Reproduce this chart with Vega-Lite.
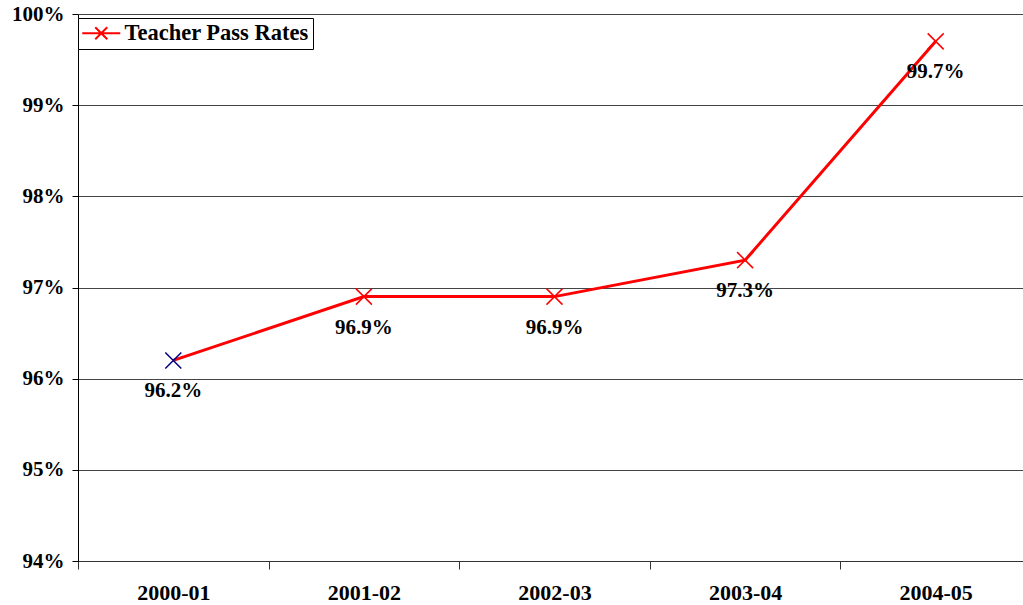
{
  "$schema": "https://vega.github.io/schema/vega-lite/v6.json",
  "autosize": "none",
  "padding": {"left": 78, "top": 14, "right": 0, "bottom": 44},
  "width": 953,
  "height": 547,
  "background": "white",
  "config": {
    "view": {"stroke": null},
    "font": "Liberation Serif, serif"
  },
  "data": {
    "values": [
      {"year": "2000-01", "rate": 0.962, "series": "Teacher Pass Rates", "marker": "first"},
      {"year": "2001-02", "rate": 0.969, "series": "Teacher Pass Rates", "marker": "rest"},
      {"year": "2002-03", "rate": 0.969, "series": "Teacher Pass Rates", "marker": "rest"},
      {"year": "2003-04", "rate": 0.973, "series": "Teacher Pass Rates", "marker": "rest"},
      {"year": "2004-05", "rate": 0.997, "series": "Teacher Pass Rates", "marker": "rest"}
    ]
  },
  "encoding": {
    "x": {
      "field": "year",
      "type": "ordinal",
      "scale": {"type": "band", "paddingInner": 0, "paddingOuter": 0},
      "axis": {
        "title": null,
        "labelAngle": 0,
        "labelFont": "Liberation Serif, serif",
        "labelFontWeight": "bold",
        "labelFontSize": 22,
        "labelColor": "black",
        "tickBand": "extent",
        "tickSize": 8,
        "tickColor": "#333",
        "domainColor": "#333",
        "labelPadding": 13,
        "grid": false
      }
    },
    "y": {
      "field": "rate",
      "type": "quantitative",
      "scale": {"domain": [0.94, 1.0], "nice": false, "zero": false},
      "axis": {
        "title": null,
        "format": ".0%",
        "values": [0.94, 0.95, 0.96, 0.97, 0.98, 0.99, 1.0],
        "labelFont": "Liberation Serif, serif",
        "labelFontWeight": "bold",
        "labelFontSize": 21,
        "labelColor": "black",
        "tickSize": 6,
        "tickColor": "black",
        "domainColor": "black",
        "labelPadding": 8,
        "grid": true,
        "gridColor": "#444",
        "gridWidth": 1,
        "gridOpacity": 1
      }
    }
  },
  "layer": [
    {
      "mark": {"type": "line", "strokeWidth": 3},
      "encoding": {
        "color": {
          "field": "series",
          "type": "nominal",
          "scale": {"range": ["#ff0000"]},
          "legend": {
            "title": null,
            "orient": "none",
            "legendX": 0,
            "legendY": 4,
            "strokeColor": "black",
            "fillColor": "white",
            "padding": 4,
            "symbolType": "M-1.9,0L1.9,0M-0.6,-0.6L0.6,0.6M-0.6,0.6L0.6,-0.6",
            "symbolSize": 400,
            "symbolOffset": 8,
            "symbolStrokeWidth": 2,
            "labelFont": "Liberation Serif, serif",
            "labelFontWeight": "bold",
            "labelFontSize": 22.5,
            "labelColor": "black",
            "labelOffset": 12,
            "labelLimit": 400
          }
        }
      }
    },
    {
      "mark": {"type": "point", "shape": "M-1,-1L1,1M-1,1L1,-1", "size": 256, "strokeWidth": 1.5, "filled": false, "opacity": 1},
      "encoding": {
        "stroke": {
          "field": "marker",
          "type": "nominal",
          "scale": {"domain": ["first", "rest"], "range": ["#000080", "#ff0000"]},
          "legend": null
        }
      }
    },
    {
      "mark": {"type": "text", "baseline": "middle", "align": "center", "dy": 31, "fontWeight": "bold", "fontSize": 21, "font": "Liberation Serif, serif", "color": "black"},
      "encoding": {
        "text": {"field": "rate", "type": "quantitative", "format": ".1%"}
      }
    }
  ]
}
